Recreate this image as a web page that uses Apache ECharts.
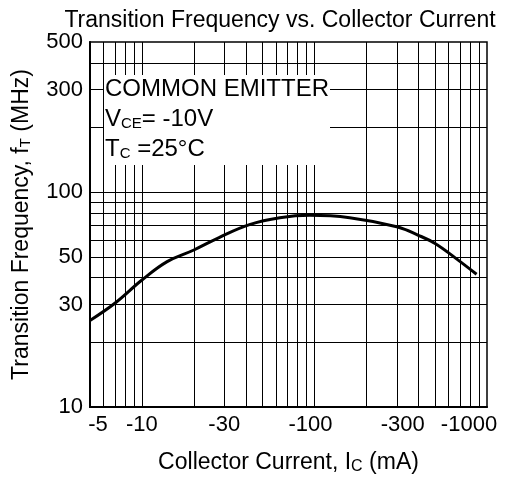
<!DOCTYPE html>
<html><head><meta charset="utf-8">
<script src="https://cdn.jsdelivr.net/npm/echarts@6/dist/echarts.min.js"></script>
<style>html,body{margin:0;padding:0;background:#fff}#c{width:505px;height:480px}</style>
</head><body><div id="c"></div>
<script>
const currentMA = [5, 7, 10, 14, 20, 28, 42, 63, 94, 160, 300, 400, 500, 660, 870];
const ftMHz = [25.3, 30.5, 39, 47.5, 53.8, 61.5, 70.6, 76, 78, 76, 69, 63, 57.7, 49.2, 41.5];
const xTickLabels = [5, 10, 30, 100, 300, 1000];
const yTickLabels = [10, 30, 50, 100, 300, 500];
const xGridValues = [6,7,8,9,10,20,30,40,50,60,70,80,90,100,200,300,400,500,600,700,800,900];
const yGridValues = [20,30,40,50,60,70,80,90,100,200,300,400];

const FONT = 'Liberation Sans, Arial, sans-serif';
const pts = currentMA.map((x, i) => [x, ftMHz[i]]);
const chart = echarts.init(document.getElementById('c'), null, {renderer: 'canvas'});
const xRich = {
  n: {fontFamily: FONT, fontSize: 22, color: '#000'},
  l: {fontFamily: FONT, fontSize: 22, color: '#000', padding: [0, 0, 0, 16]},
  l2: {fontFamily: FONT, fontSize: 22, color: '#000', padding: [0, 0, 0, 12]},
  r: {fontFamily: FONT, fontSize: 22, color: '#000', padding: [0, 36, 0, 0]},
  r2: {fontFamily: FONT, fontSize: 22, color: '#000', padding: [0, 8, 0, 0]}
};
function xLabel(v) {
  const t = '-' + v;
  if (v === 5) return '{l|' + t + '}';
  if (v === 300) return '{l2|' + t + '}';
  if (v === 1000) return '{r|' + t + '}';
  if (v === 100) return '{r2|' + t + '}';
  return '{n|' + t + '}';
}
chart.setOption({
  animation: false,
  backgroundColor: '#fff',
  title: {
    text: 'Transition Frequency vs. Collector Current',
    left: 275, top: 4, textAlign: 'center',
    textStyle: {fontFamily: FONT, fontSize: 23, fontWeight: 'normal', color: '#000'}
  },
  grid: {left: 90, right: 18, top: 42, bottom: 70, show: true, borderColor: '#000', borderWidth: 1.5},
  xAxis: {
    type: 'log', min: 5, max: 1000,
    axisLine: {show: true, lineStyle: {color: '#000', width: 2}},
    axisTick: {show: false},
    splitLine: {show: false},
    minorTick: {show: false}, minorSplitLine: {show: false},
    axisLabel: {
      customValues: xTickLabels,
      formatter: xLabel,
      rich: xRich,
      fontFamily: FONT, fontSize: 22, color: '#000', margin: 7
    },
    name: '{s|Collector Current, I}{sub|C}{s| (mA)}',
    nameLocation: 'middle', nameGap: 44,
    nameTextStyle: {
      fontFamily: FONT, fontSize: 23, color: '#000',
      rich: {
        s: {fontFamily: FONT, fontSize: 23, color: '#000'},
        sub: {fontFamily: FONT, fontSize: 16, color: '#000', padding: [8, 0, 0, 0]}
      }
    }
  },
  yAxis: {
    type: 'log', min: 10, max: 500,
    axisLine: {show: true, lineStyle: {color: '#000', width: 2}},
    axisTick: {show: false},
    splitLine: {show: false},
    minorTick: {show: false}, minorSplitLine: {show: false},
    axisLabel: {
      customValues: yTickLabels,
      fontFamily: FONT, fontSize: 22, color: '#000', margin: 7
    },
    name: '{s|Transition Frequency, f}{sub|T}{s| (MHz)}',
    nameLocation: 'middle', nameGap: 57,
    nameTextStyle: {
      fontFamily: FONT, fontSize: 23, color: '#000',
      rich: {
        s: {fontFamily: FONT, fontSize: 23, color: '#000'},
        sub: {fontFamily: FONT, fontSize: 15, color: '#000', padding: [8, 0, 0, 0]}
      }
    }
  },
  series: [
    {
      type: 'line', data: pts, z: 1, symbol: 'none', silent: true,
      lineStyle: {opacity: 0, width: 0},
      markLine: {
        symbol: 'none', silent: true, animation: false,
        label: {show: false},
        lineStyle: {color: '#000', width: 1, type: 'solid'},
        emphasis: {disabled: true},
        data: [...xGridValues.map(v => ({xAxis: v})), ...yGridValues.map(v => ({yAxis: v}))]
      }
    },
    {
      type: 'line', data: pts, z: 5, symbol: 'none', smooth: 0.4,
      lineStyle: {color: '#000', width: 3}
    }
  ],
  graphic: [
    {type: 'rect', left: 104, top: 75, z: 10, shape: {width: 226, height: 90}, style: {fill: '#fff'}},
    {type: 'text', left: 105, top: 77, z: 11, style: {text: 'COMMON EMITTER', font: '24px ' + FONT, fill: '#000'}},
    {type: 'text', left: 105, top: 107, z: 11, style: {
      text: '{a|V}{b|CE}{a|= -10V}', fill: '#000',
      rich: {a: {font: '24px ' + FONT, fill: '#000'}, b: {font: '15px ' + FONT, fill: '#000', padding: [9, 0, 0, 0]}}
    }},
    {type: 'text', left: 105, top: 137, z: 11, style: {
      text: '{a|T}{b|C}{a| =25°C}', fill: '#000',
      rich: {a: {font: '24px ' + FONT, fill: '#000'}, b: {font: '15px ' + FONT, fill: '#000', padding: [9, 0, 0, 0]}}
    }}
  ]
});
</script></body></html>
